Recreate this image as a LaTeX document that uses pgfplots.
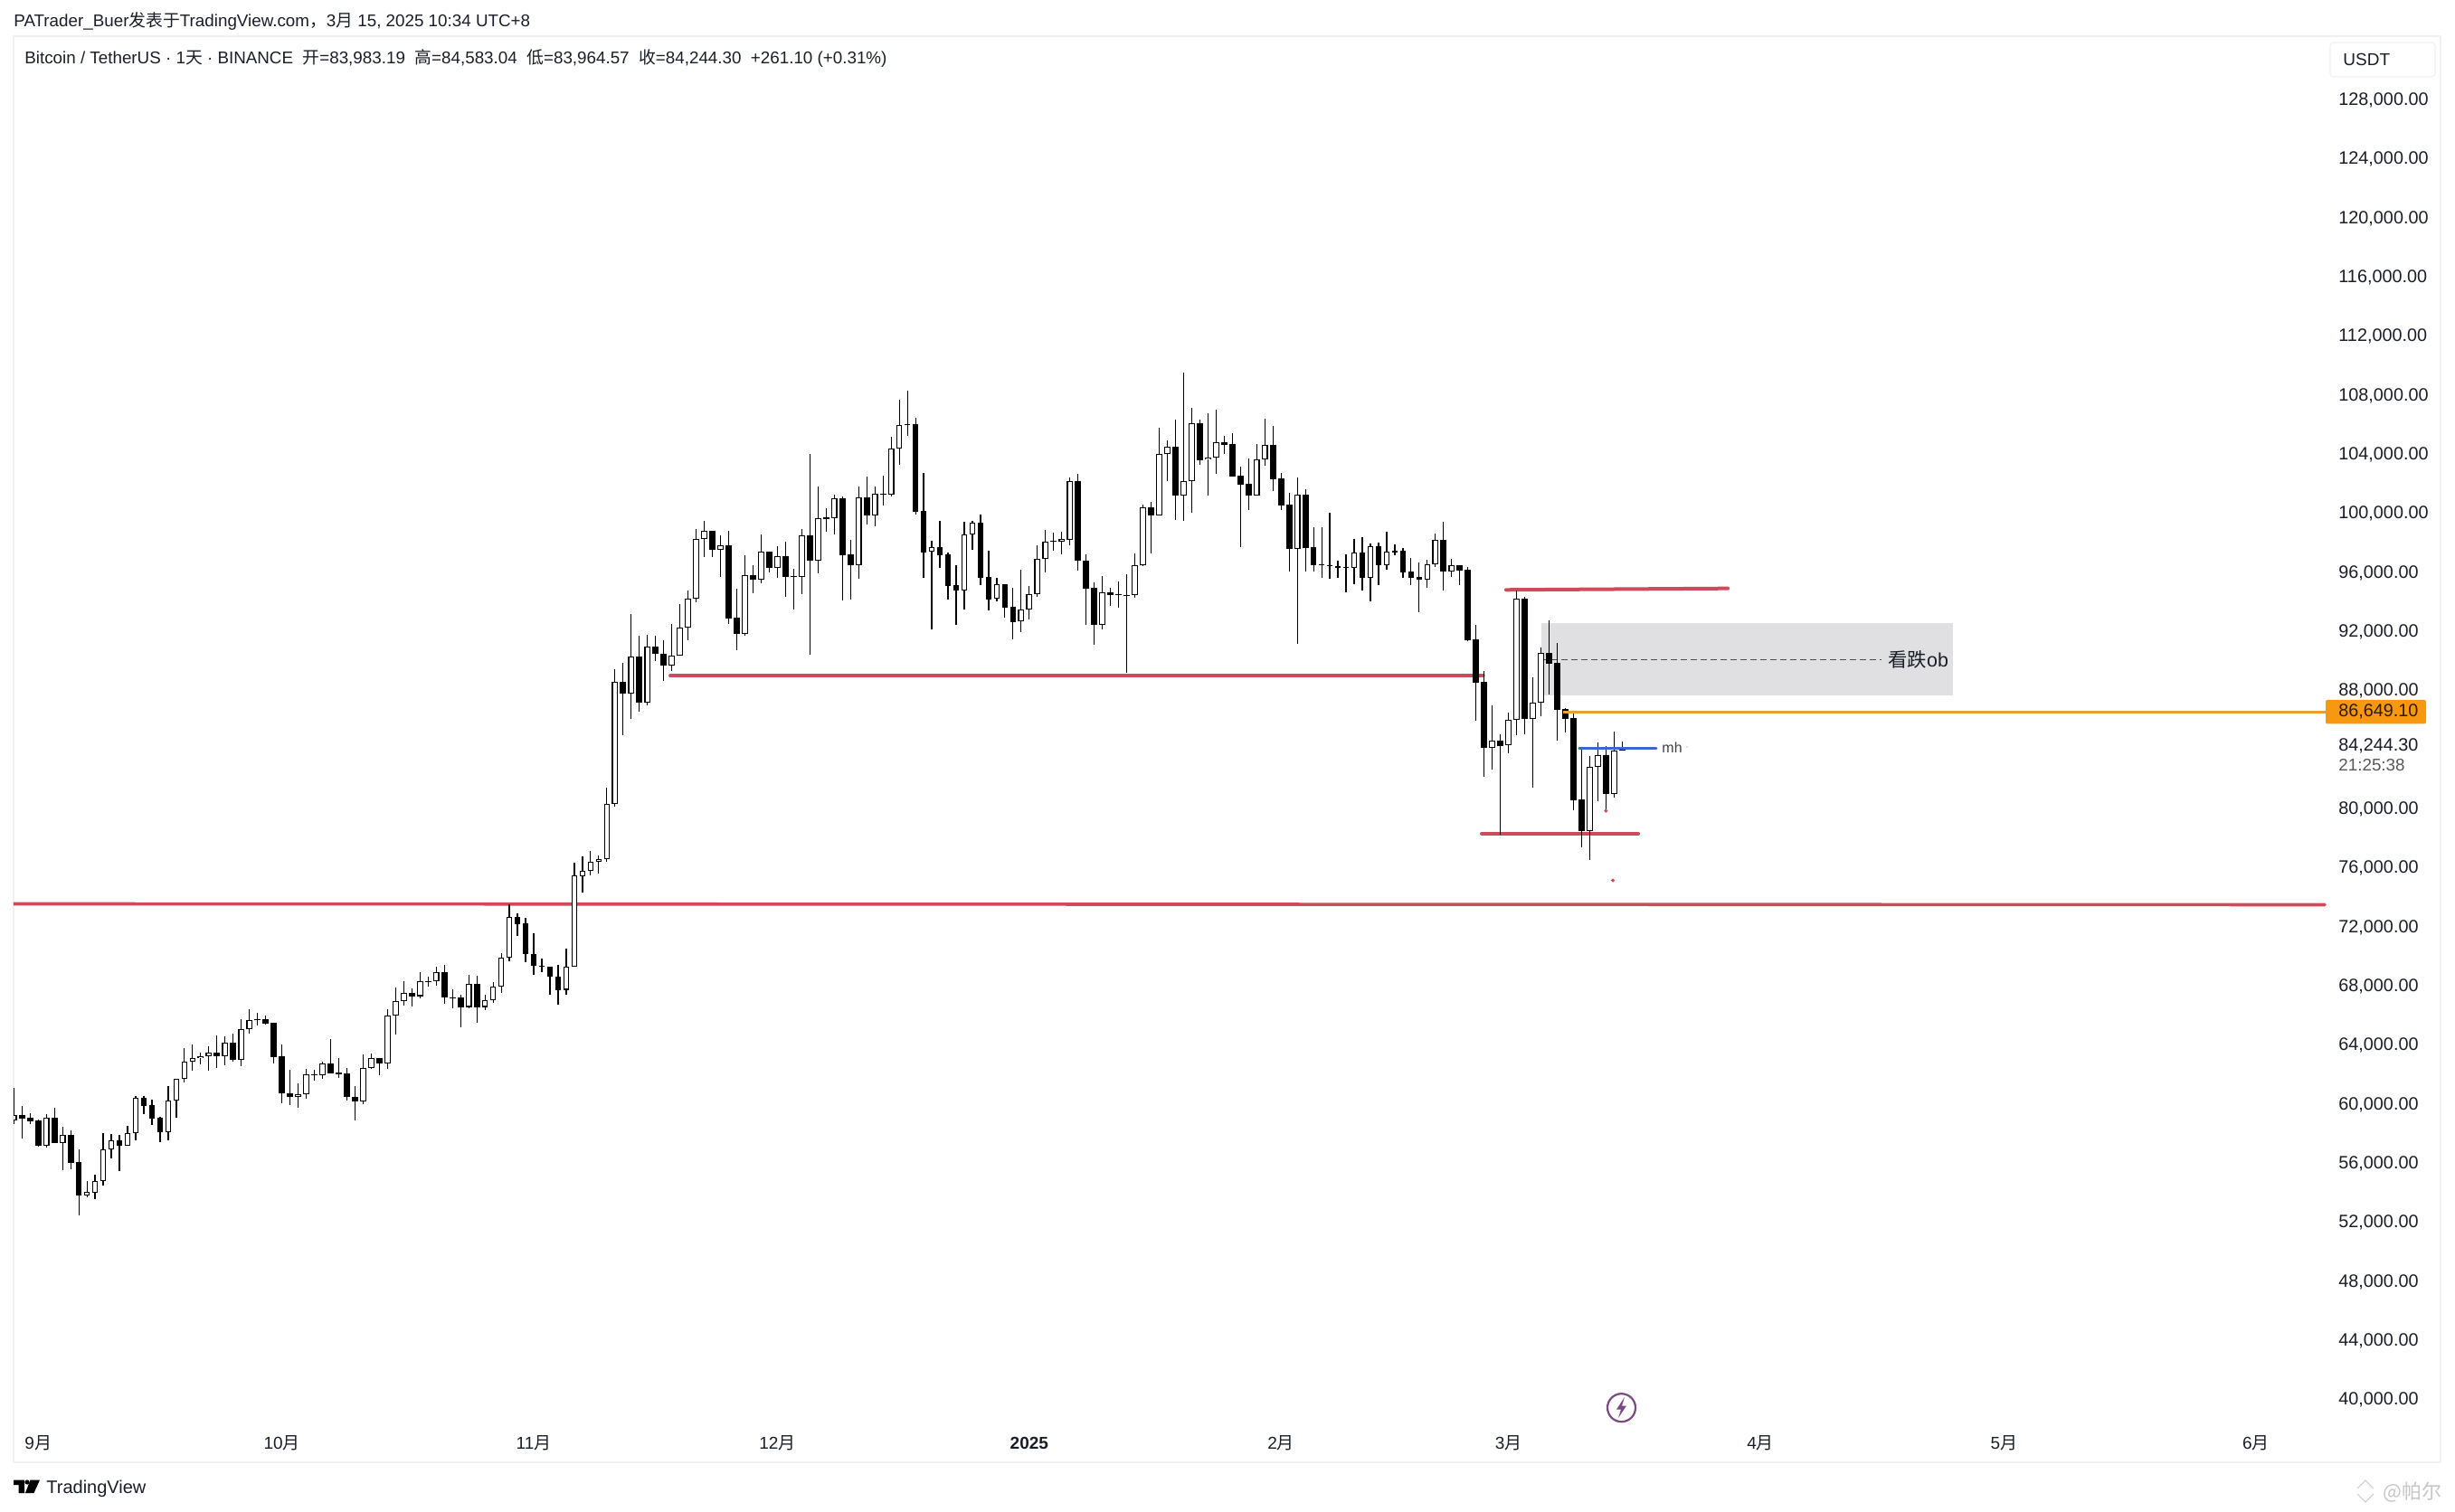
\documentclass[border=0pt]{standalone}
\usepackage{fontspec}
\usepackage{pgfplots}
\usepackage{pgfplotstable}
\pgfplotsset{compat=1.18}
\setmainfont{Liberation Sans}
\newfontfamily\cjk{Noto Sans CJK SC}
\definecolor{tvred}{HTML}{CF4A5A}
\definecolor{tvorange}{HTML}{E8A030}
\definecolor{tvtag}{HTML}{F89810}
\definecolor{tvblue}{HTML}{3F66C8}
\definecolor{tvtext}{HTML}{1A1E29}
\definecolor{tvbox}{HTML}{E0DFE1}
\definecolor{tvborder}{HTML}{F0F1F3}
\definecolor{tvpurple}{HTML}{7A4A80}
\pgfplotstableread{
i o h l c
0 58945 61109 58701 59272
1 59272 59884 57680 59068
2 59109 59415 58701 58884
3 58925 58966 57170 57231
4 57231 59333 57109 59088
5 59088 59782 57394 57415
6 57415 58496 55557 57925
7 57925 58251 55639 56068
8 56088 56986 52516 53863
9 53863 54823 53720 54067
10 54047 55251 53618 54802
11 54802 58047 54516 56945
12 56945 58007 56374 57558
13 57558 57925 55496 57231
14 57231 58537 57231 58047
15 58047 60578 57598 60456
16 60435 60578 59354 59925
17 59945 60313 58639 59068
18 59109 59150 57476 58149
19 58149 61252 57598 60252
20 60252 61721 59109 61721
21 61721 63823 61517 62885
22 62885 64068 62293 63129
23 63129 63517 62742 63293
24 63293 63946 62293 63497
25 63497 64681 62476 63252
26 63252 64640 62660 64170
27 64170 64803 62905 63048
28 63048 65783 62599 65089
29 65089 66456 64803 65701
30 65762 66211 65354 65701
31 65762 66048 65436 65497
32 65538 65538 62803 63232
33 63252 64068 60088 60742
34 60742 62354 59966 60537
35 60537 61456 59782 60680
36 60680 62436 60395 62027
37 61966 62354 61619 62048
38 61966 62905 61762 62762
39 62762 64415 62109 62129
40 62150 63150 61823 62068
41 62088 62456 60292 60537
42 60537 61252 58925 60231
43 60231 63395 60027 62456
44 62456 63456 62436 63129
45 63129 63170 61966 62803
46 62803 66456 62395 66007
47 66007 67926 64762 66987
48 66987 68354 66722 67538
49 67543 67849 66665 67338
50 67338 68971 67175 68339
51 68319 68665 68012 68360
52 68339 69318 68053 68951
53 68951 69481 66828 67277
54 67277 67808 66542 67240
55 67240 67440 65257 66604
56 66604 68767 66502 68155
57 68155 68706 65563 66604
58 66604 67440 66420 67053
59 67053 68318 66889 67971
60 67971 70257 67563 69931
61 69931 73563 69686 72686
62 72686 72951 71400 72237
63 72277 72645 69645 70216
64 70216 71604 68788 69420
65 69420 69869 68992 69318
66 69318 69318 67461 68686
67 68686 69461 66787 67767
68 67767 70584 67440 69318
69 69318 76380 69318 75502
70 75482 76829 74339 75809
71 75809 77176 75543 76421
72 76421 76870 75645 76605
73 76605 81483 76462 80340
74 80340 89483 80197 88606
75 88606 89891 85014 87850
76 87850 93218 86116 90320
77 90320 91769 86626 87238
78 87238 91810 87034 90994
79 90994 91769 90034 90504
80 90504 91422 88708 89749
81 89749 92545 89381 90381
82 90383 93894 90383 92282
83 92282 94792 91445 94241
84 94241 98976 94016 98282
85 98282 99527 97098 98833
86 98833 98833 97098 97588
87 97588 98527 95731 97853
88 97853 98833 92547 92935
89 92955 94935 90792 91894
90 91894 97180 91771 95833
91 95833 96506 94629 95568
92 95568 98609 95302 97425
93 97425 97425 96057 96364
94 96364 97813 95690 97119
95 97119 98098 94384 95751
96 95751 96262 93527 95790
97 95751 98976 94568 98527
98 98527 104038 90465 96853
99 96853 101854 95976 99690
100 99751 100384 98772 99670
101 99730 101303 98609 101037
102 101037 101160 94159 97221
103 97241 98241 94221 96547
104 96547 101854 95629 101099
105 101099 102507 99262 99915
106 99915 101833 99160 101344
107 101344 102568 100568 101364
108 101324 105242 101180 104405
109 104405 107732 103323 105997
110 106058 108324 105283 105997
111 106058 106528 99956 100160
112 100180 102772 95670 97404
113 97425 98180 92180 97731
114 97731 99527 96343 97221
115 97241 97364 94221 95139
116 95180 96527 92486 94833
117 94833 99466 93527 98588
118 98588 99527 97568 99384
119 99384 99956 95180 95690
120 95710 97486 93465 94221
121 94241 95670 94078 95221
122 95221 95262 92955 93669
123 93689 94996 91526 92690
124 92711 96200 91996 93506
125 93506 95098 92853 94547
126 94547 97853 94384 96935
127 96935 98935 96057 98098
128 98120 98752 97507 98160
129 98140 98793 97242 98283
130 98262 102446 97895 102201
131 102201 102711 96180 96854
132 96854 97242 92486 94956
133 94976 95364 91159 92506
134 92506 95772 92200 94670
135 94670 94996 93772 94527
136 94567 95446 93670 94527
137 94506 95915 89261 94470
138 94486 97323 94343 96507
139 96507 100609 96487 100426
140 100426 100813 97344 99915
141 99915 105814 99915 104038
142 104038 104977 102242 104528
143 104528 106365 99609 101262
144 101262 109569 99548 102201
145 102201 107181 100099 106120
146 106120 106365 103324 103650
147 103670 106793 101242 103834
148 103834 107038 102711 104834
149 104834 105283 104059 104691
150 104732 105446 102507 102548
151 102568 103201 97752 101997
152 102017 103773 100262 101262
153 101262 104752 101262 103671
154 103671 106447 103263 104650
155 104650 105957 101548 102365
156 102385 102793 100283 100589
157 100609 101426 96119 97650
158 97650 102446 91221 101283
159 101283 101671 96119 97711
160 97731 99099 96119 96548
161 96590 99099 95670 96550
162 96500 100079 95609 96460
163 96446 96833 95670 96364
164 96400 97242 94690 96370
165 96364 98283 95241 97364
166 97364 98446 94792 95690
167 95690 98017 94078 97793
168 97793 98038 95180 96548
169 96548 98793 96221 97425
170 97487 97956 97201 97405
171 97487 97670 95670 96058
172 96078 97037 95180 95690
173 95711 96711 93364 95568
174 95568 96895 94996 96568
175 96568 98691 96425 98221
176 98219 99485 94831 96117
177 96117 96974 95709 96505
178 96505 96525 95199 96178
179 96198 96423 91362 91464
180 91505 92484 85994 88586
181 88627 89341 82218 84177
182 84177 87035 82687 84626
183 84646 85096 78299 84300
184 84320 86545 83810 86035
185 86035 94790 84994 94239
186 94239 94382 85096 86137
187 86137 88953 81483 87198
188 87198 90974 86320 90566
189 90566 92770 87790 89872
190 89913 91260 84667 86749
191 86770 86831 85198 86137
192 86178 86504 79952 80626
193 80646 84075 77442 78544
194 78544 83606 76585 82851
195 82851 84524 80544 83647
196 83647 84279 79891 81055
197 81055 85239 80810 83953
198 83983 84583 83964 84244
}\candles
\begin{document}
\begin{tikzpicture}
\path[use as bounding box] (0pt,0pt) rectangle (1357pt,835.5pt);
\fill[white] (0pt,0pt) rectangle (1357pt,835.5pt);
\begin{scope}[shift={(0pt,835.5pt)},x=.5pt,y=-.5pt]
\draw[tvborder,line width=1pt] (15,40) rectangle (2698,1617);
\end{scope}
\begin{axis}[
  at={(7.5pt,46.5pt)},anchor=south west,
  scale only axis,width=1278.5pt,height=769pt,
  xmin=-0.033,xmax=284.71,ymin=38163,ymax=132350,
  axis line style={draw=none},tick style={draw=none},major tick length=0pt,
  xtick={3,33,64,94,125,156,184,215,245,276},
  xticklabels={9{\cjk 月},10{\cjk 月},11{\cjk 月},12{\cjk 月},\textbf{2025},2{\cjk 月},3{\cjk 月},4{\cjk 月},5{\cjk 月},6{\cjk 月}},
  xticklabel style={anchor=center,inner sep=0pt,yshift=-9pt,font=\fontsize{9.5}{11}\selectfont,text=tvtext},
  ytick={40000,44000,48000,52000,56000,60000,64000,68000,72000,76000,80000,88000,92000,96000,100000,104000,108000,112000,116000,120000,124000,128000},
  yticklabel pos=right,
  yticklabel style={anchor=west,inner sep=0pt,xshift=6.5pt,font=\fontsize{9.9}{11}\selectfont,text=tvtext,
    /pgf/number format/.cd,fixed,fixed zerofill,precision=2,1000 sep={,},assume math mode=true},
  scaled y ticks=false,
  clip=true,
]
% order block
\addplot[fill=tvbox,draw=none,forget plot] coordinates {(188.08,92605) (238.66,92605) (238.66,87706) (188.08,87706)} --cycle;
\addplot[color=black!70,line width=.5pt,dash pattern=on 3.5pt off 2pt,forget plot] coordinates {(188.08,90137) (229.9,90137)};
% red levels
\addplot[tvred,line width=1.8pt,line cap=round,forget plot] coordinates {(-1,73590) (284.5,73529)};
\addplot[tvred,line width=1.8pt,line cap=round,forget plot] coordinates {(80.8,89035) (180.9,89035)};
\addplot[tvred,line width=2pt,line cap=round,forget plot] coordinates {(183.7,94853) (211.0,94951)};
\addplot[tvred,line width=2pt,line cap=round,forget plot] coordinates {(180.7,78355) (199.97,78355)};
% wicks
\addplot[draw=none,mark=none,forget plot,error bars/.cd,y dir=plus,y explicit,error mark=none,error bar style={draw=black,line width=.6pt}]
  table[x=i,y=l,y error plus expr=\thisrow{h}-\thisrow{l}] {\candles};
% bodies
\addplot[draw=none,mark=none,forget plot,error bars/.cd,y dir=plus,y explicit,error mark=none,error bar style={draw=black,line width=3.35pt}]
  table[x=i,y expr={min(\thisrow{o},\thisrow{c})},y error plus expr={abs(\thisrow{c}-\thisrow{o})}] {\candles};
% hollow interior of rising candles
\addplot[draw=none,mark=none,forget plot,error bars/.cd,y dir=plus,y explicit,error mark=none,error bar style={draw=white,line width=2.2pt}]
  table[x=i,y expr={\thisrow{o}+67},y error plus expr={max(\thisrow{c}-\thisrow{o}-134,0)}] {\candles};
% orange and blue levels
\addplot[tvorange,line width=1.5pt,forget plot] coordinates {(190.7,86600) (284.71,86600)};
\addplot[tvblue,line width=1.3pt,line cap=round,forget plot] coordinates {(192.7,84136) (202.2,84136)};
% stray dots
\addplot[only marks,mark=*,mark size=.8pt,color=tvred,forget plot] coordinates {(196,79891) (196.85,75177)};
\end{axis}
\begin{scope}[shift={(0pt,835.5pt)},x=.5pt,y=-.5pt]
% header
\node[anchor=west,inner sep=0pt,text=tvtext,font=\fontsize{9.4}{11}\selectfont] at (15,24) {PATrader\_Buer{\cjk 发表于}TradingView.com{\cjk ，}3{\cjk 月} 15, 2025 10:34 UTC+8};
\node[anchor=west,inner sep=0pt,text=tvtext,font=\fontsize{9.4}{11}\selectfont] at (27,65) {Bitcoin / TetherUS · 1{\cjk 天} · BINANCE\ \ {\cjk 开}=83,983.19\ \ {\cjk 高}=84,583.04\ \ {\cjk 低}=83,964.57\ \ {\cjk 收}=84,244.30\ \ +261.10 (+0.31\%)};
% USDT box
\draw[tvborder,line width=.6pt,rounded corners=2pt] (2576,47) rectangle (2692,85);
\node[anchor=west,inner sep=0pt,text=tvtext,font=\fontsize{9.5}{11}\selectfont] at (2590,66) {USDT};
% price tags
\fill[tvtag,rounded corners=1pt] (2571,774) rectangle (2682,800.5);
\node[anchor=west,inner sep=0pt,text=black!70!tvtag!60!black,font=\fontsize{9.9}{11}\selectfont] at (2585,787) {86,649.10};
\node[anchor=west,inner sep=0pt,text=tvtext,font=\fontsize{9.9}{11}\selectfont] at (2585,825) {84,244.30};
\node[anchor=west,inner sep=0pt,text=black!65,font=\fontsize{9.4}{11}\selectfont] at (2585,846) {21:25:38};
% annotation text
\node[anchor=west,inner sep=0pt,text=tvtext,font=\fontsize{10.7}{13}\selectfont] at (2087,729) {{\cjk 看跌}ob};
\node[anchor=west,inner sep=0pt,text=black!75,font=\fontsize{8}{10}\selectfont] at (1837,827) {mh};
\fill[black!50] (1865,826) circle (.7);
% lightning icon
\draw[tvpurple,line width=1.1pt] (1792.5,1556.7) circle (15.5);
\fill[tvpurple] (1796,1545) -- (1787,1558.5) -- (1792,1558.5) -- (1789,1568) -- (1798,1554.5) -- (1793,1554.5) -- cycle;
% TradingView logo
\fill[black] (15,1636.5) -- (27,1636.5) -- (27,1651) -- (20.5,1651) -- (20.5,1642) -- (15,1642) -- cycle;
\fill[black] (30,1639) circle (2.6);
\fill[black] (33.5,1636.5) -- (44,1636.5) -- (37.5,1651) -- (28,1651) -- cycle;
\node[anchor=west,inner sep=0pt,text=tvtext,font=\fontsize{10}{12}\selectfont] at (51,1646) {TradingView};
% watermark
\node[anchor=west,inner sep=0pt,text=black!22,font=\fontsize{11}{13}\selectfont] at (2634,1650) {{\cjk @帕尔}};
\draw[black!22,line width=.4pt] (2606,1646) -- (2615,1637) -- (2624,1646);
\draw[black!22,line width=.4pt] (2606,1652) -- (2615,1661) -- (2624,1652);
\end{scope}
\end{tikzpicture}
\end{document}
